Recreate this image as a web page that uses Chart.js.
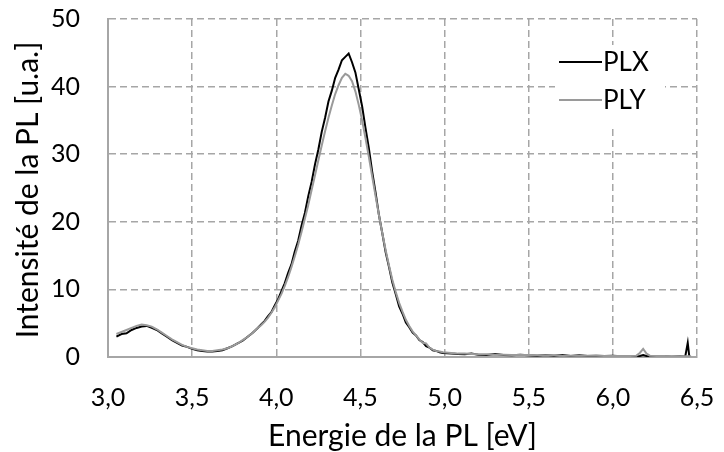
<!DOCTYPE html>
<html>
<head>
<meta charset="utf-8">
<script src="https://cdn.jsdelivr.net/npm/chart.js@4/dist/chart.umd.min.js"></script>
<style>
html,body{margin:0;padding:0;background:#fff;}
#wrap{width:724px;height:452px;position:relative;}
</style>
</head>
<body>
<div id="wrap"><canvas id="c" width="724" height="452"></canvas></div>
<script>
// Energies (eV)
const energies = [
  3.05,3.08,3.11,3.14,3.17,3.20,3.23,3.26,3.29,3.32,3.35,3.38,3.41,3.44,3.47,3.50,3.53,3.56,3.59,3.62,3.65,3.68,3.71,3.74,3.77,3.80,3.83,3.86,3.89,
  3.91,3.93,3.95,3.97,3.99,4.01,4.03,4.05,4.07,4.09,4.11,4.13,4.15,4.17,4.19,4.21,4.23,4.25,4.27,4.29,4.31,4.33,4.35,4.37,4.39,4.41,4.43,4.45,4.47,4.49,
  4.51,4.53,4.55,4.57,4.59,4.61,4.63,4.65,4.67,4.69,4.71,4.73,4.75,4.77,4.79,4.81,4.83,4.85,4.87,4.89,4.91,4.93,4.95,4.97,4.99,
  5.04,5.08,5.12,5.16,5.20,5.25,5.30,5.35,5.40,5.45,5.50,5.55,5.60,5.65,5.70,5.75,5.80,5.85,5.90,5.95,6.00,6.05,6.10,6.14,6.16,6.18,6.20,6.22,6.26,6.30,6.35,6.40,6.43,6.445,6.455,6.465
];
// PLX intensity (u.a.)
const plx = [
  3.0,3.4,3.5,4.0,4.3,4.5,4.6,4.3,4.0,3.5,3.0,2.5,2.1,1.7,1.5,1.2,1.0,0.9,0.8,0.8,0.9,1.0,1.3,1.6,2.0,2.4,3.0,3.6,4.3,
  4.8,5.3,6.0,6.6,7.6,8.5,9.7,10.9,12.4,13.7,15.6,17.2,19.4,21.3,23.8,25.9,28.5,30.7,33.3,35.4,37.8,39.4,41.3,42.5,43.9,44.4,44.9,43.6,42.1,39.6,
  37.1,33.9,30.9,27.4,24.3,21.0,18.3,15.5,13.3,11.0,9.3,7.5,6.4,5.1,4.4,3.6,3.2,2.5,2.2,1.6,1.4,1.0,0.9,0.7,0.6,
  0.5,0.45,0.4,0.5,0.35,0.3,0.45,0.3,0.25,0.35,0.25,0.2,0.3,0.2,0.3,0.15,0.25,0.15,0.2,0.15,0.2,0.1,0.15,0.1,0.15,0.3,0.15,0.1,0.1,0.1,0.05,0.1,0.05,2.1,-0.1,0.0
];
// PLY intensity (u.a.)
const ply = [
  3.4,3.7,4.0,4.3,4.6,4.8,4.7,4.5,4.1,3.6,3.1,2.6,2.2,1.8,1.5,1.3,1.1,1.0,0.9,0.9,1.0,1.1,1.3,1.6,2.0,2.5,3.0,3.6,4.3,
  4.7,5.2,5.8,6.5,7.3,8.3,9.3,10.5,11.8,13.3,14.9,16.6,18.5,20.5,22.5,24.7,26.9,29.1,31.3,33.4,35.4,37.2,38.9,40.2,41.3,41.9,41.6,40.8,39.3,37.3,
  35.0,32.4,29.6,26.7,23.8,21.0,18.3,15.8,13.5,11.4,9.6,8.0,6.7,5.5,4.6,3.8,3.2,2.6,2.1,2.0,1.4,1.1,0.9,0.8,0.7,
  0.6,0.5,0.5,0.45,0.4,0.4,0.35,0.35,0.3,0.3,0.3,0.25,0.25,0.25,0.2,0.2,0.2,0.2,0.2,0.15,0.15,0.15,0.15,0.2,0.6,1.2,0.5,0.2,0.15,0.15,0.1,0.1,0.1,0.1,0.1,0.1
];
const seriesNames = ['PLX','PLY'];
const seriesColors = ['#000000','#9a9a9a'];
const xTickLabels = ['3,0','3,5','4,0','4,5','5,0','5,5','6,0','6,5'];
const yTickLabels = ['0','10','20','30','40','50'];
const xTitle = 'Energie de la PL [eV]';
const yTitle = 'Intensité de la PL [u.a.]';

const FONT = 'Lato, "Open Sans", sans-serif';
const toPts = arr => energies.map((e,i)=>({x:e,y:arr[i]}));

const legendPlugin = {
  id:'boxLegend',
  afterDraw(chart){
    const ctx = chart.ctx;
    const ca = chart.chartArea;
    ctx.save();
    // y axis title
    ctx.translate(28, (ca.top+ca.bottom)/2 + 2);
    ctx.rotate(-Math.PI/2);
    ctx.fillStyle = '#000';
    ctx.font = '30px ' + FONT;
    ctx.textAlign = 'center';
    ctx.textBaseline = 'middle';
    ctx.fillText(yTitle, 0, 0);
    ctx.restore();

    ctx.save();
    ctx.fillStyle = '#fff';
    ctx.fillRect(ca.right-142, ca.top+26, 110, 82);
    const rows = [ca.top+43, ca.top+81];
    chart.data.datasets.forEach((ds,i)=>{
      const y = rows[i];
      ctx.strokeStyle = ds.borderColor;
      ctx.lineWidth = 2;
      ctx.beginPath();
      ctx.moveTo(ca.right-138, y);
      ctx.lineTo(ca.right-95, y);
      ctx.stroke();
      ctx.fillStyle = '#000';
      ctx.font = '26px ' + FONT;
      ctx.textBaseline = 'middle';
      ctx.textAlign = 'left';
      ctx.fillText(ds.label, ca.right-94, y+1);
    });
    ctx.restore();
  }
};

new Chart(document.getElementById('c'), {
  type:'line',
  data:{
    datasets:[
      {label:seriesNames[0], data:toPts(plx), borderColor:seriesColors[0], borderWidth:2, pointRadius:0, tension:0, order:2},
      {label:seriesNames[1], data:toPts(ply), borderColor:seriesColors[1], borderWidth:2, pointRadius:0, tension:0, order:1}
    ]
  },
  options:{
    responsive:false,
    animation:false,
    layout:{padding:{top:19,right:27,left:0,bottom:0}},
    plugins:{legend:{display:false},tooltip:{enabled:false}},
    scales:{
      x:{
        type:'linear', min:3.0, max:6.5,
        afterBuildTicks(s){ s.ticks = xTickLabels.map((l,i)=>({value:3.0+0.5*i})); },
        afterFit(s){ s.height = 95; s.paddingLeft = 0; s.paddingRight = 0; },
        ticks:{color:'#000', font:{family:FONT,size:25}, padding:26,
          callback:(v,i)=>xTickLabels[i]},
        grid:{color:'#a6a6a6', lineWidth:1.5, drawTicks:false},
        border:{display:true, color:'#a6a6a6', width:2, dash:[7,4]},
        title:{display:true, text:xTitle, color:'#000', font:{family:FONT,size:30}, padding:{top:0,bottom:-2}}
      },
      y:{
        type:'linear', min:0, max:50,
        afterBuildTicks(s){ s.ticks = yTickLabels.map((l,i)=>({value:10*i})); },
        afterFit(s){ s.width = 108; s.paddingTop = 0; s.paddingBottom = 0; },
        ticks:{color:'#000', font:{family:FONT,size:25}, padding:28,
          callback:(v,i)=>yTickLabels[i]},
        grid:{color:'#a6a6a6', lineWidth:1.5, drawTicks:false},
        border:{display:true, color:'#a6a6a6', width:2, dash:[7,4]},
        title:{display:false, text:yTitle}
      }
    }
  },
  plugins:[legendPlugin]
});
</script>
</body>
</html>
